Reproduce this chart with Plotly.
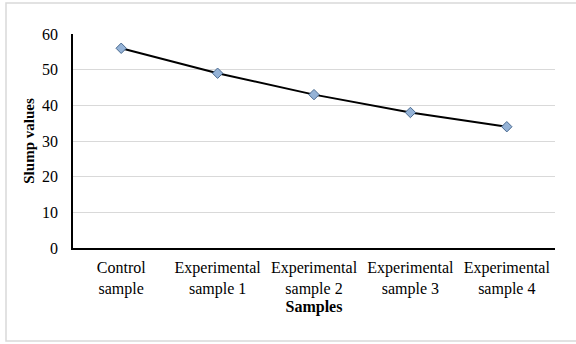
import plotly.graph_objects as go

categories = ["Control<br>sample", "Experimental<br>sample 1", "Experimental<br>sample 2",
              "Experimental<br>sample 3", "Experimental<br>sample 4"]
slump = [56, 49, 43, 38, 34]
y_ticks = [0, 10, 20, 30, 40, 50, 60]

font = "Times New Roman"

fig = go.Figure()
fig.add_trace(go.Scatter(
    x=categories, y=slump, mode="lines+markers",
    line=dict(color="black", width=2),
    marker=dict(symbol="diamond", size=8, color="#95b3d7",
                line=dict(color="#4a6a90", width=1)),
    showlegend=False,
))

fig.update_layout(
    width=576, height=344,
    margin=dict(l=73, r=21, t=34, b=96),
    paper_bgcolor="white", plot_bgcolor="white",
    font=dict(family=font, size=16, color="black"),
    xaxis=dict(
        showline=True, linecolor="black", linewidth=1.5,
        showgrid=False, ticks="", tickfont=dict(family=font, size=16),
        range=[-0.5, 4.5], ticklabelstandoff=4,
        title=dict(text="<b>Samples</b>", font=dict(family=font, size=16), standoff=1),
    ),
    yaxis=dict(
        range=[0, 60], tickvals=y_ticks, ticks="",
        showline=True, linecolor="black", linewidth=1.5,
        showgrid=True, gridcolor="#d9d9d9", gridwidth=1,
        tickfont=dict(family=font, size=16), zeroline=False, ticklabelstandoff=10,
        title=dict(text="<b>Slump values</b>", font=dict(family=font, size=15), standoff=4),
    ),
    shapes=[dict(type="rect", xref="paper", yref="paper",
                 x0=-0.139, x1=1.05, y0=-0.434, y1=1.1445,
                 line=dict(color="#d9d9d9", width=1.5), layer="below")],
)

fig.write_html("out.html")
